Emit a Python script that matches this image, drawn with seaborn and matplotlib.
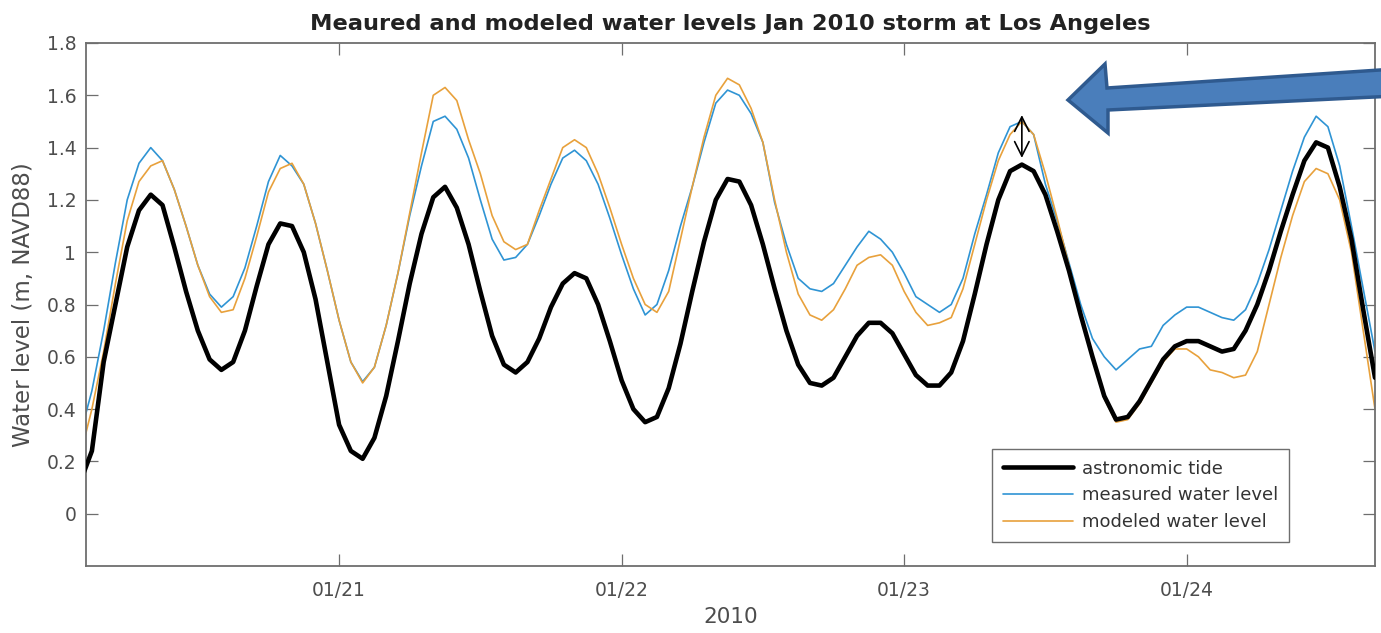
import numpy as np
import pandas as pd
import matplotlib
matplotlib.use("Agg")
import matplotlib.pyplot as plt
import matplotlib.dates as mdates
from matplotlib.patches import Polygon
from matplotlib.ticker import FuncFormatter
import seaborn as sns

# ---------------- data (hourly, starting 2010-01-20 02:00) ----------------
start_time = "2010-01-20 02:00"

astronomic_tide = [
    0.12, 0.24, 0.58, 0.80, 1.02, 1.16, 1.22, 1.18, 1.02, 0.85,   # 02-11
    0.70, 0.59, 0.55, 0.58, 0.70, 0.87, 1.03, 1.11, 1.10, 1.00,   # 12-21
    0.82, 0.58, 0.34, 0.24, 0.21, 0.29, 0.45, 0.66, 0.88, 1.07,   # 22-31
    1.21, 1.25, 1.17, 1.03, 0.85, 0.68, 0.57, 0.54, 0.58, 0.67,   # 32-41
    0.79, 0.88, 0.92, 0.90, 0.80, 0.66, 0.51, 0.40, 0.35, 0.37,   # 42-51
    0.48, 0.65, 0.85, 1.04, 1.20, 1.28, 1.27, 1.18, 1.03, 0.86,   # 52-61
    0.70, 0.57, 0.50, 0.49, 0.52, 0.60, 0.68, 0.73, 0.73, 0.69,   # 62-71
    0.61, 0.53, 0.49, 0.49, 0.54, 0.66, 0.84, 1.03, 1.20, 1.31,   # 72-81
    1.335, 1.31, 1.22, 1.08, 0.93, 0.76, 0.60, 0.45, 0.36, 0.37,  # 82-91
    0.43, 0.51, 0.59, 0.64, 0.66, 0.66, 0.64, 0.62, 0.63, 0.70,   # 92-101
    0.80, 0.93, 1.08, 1.22, 1.35, 1.42, 1.40, 1.25, 1.05, 0.78,   # 102-111
    0.52,                                                         # 112
]

measured_level = [
    0.30, 0.47, 0.70, 0.96, 1.20, 1.34, 1.40, 1.35, 1.24, 1.10,
    0.95, 0.84, 0.79, 0.83, 0.94, 1.10, 1.27, 1.37, 1.33, 1.26,
    1.11, 0.93, 0.74, 0.58, 0.505, 0.56, 0.72, 0.92, 1.14, 1.33,
    1.50, 1.52, 1.47, 1.36, 1.20, 1.05, 0.97, 0.98, 1.03, 1.14,
    1.26, 1.36, 1.39, 1.35, 1.26, 1.13, 0.99, 0.86, 0.76, 0.80,
    0.93, 1.10, 1.25, 1.42, 1.57, 1.62, 1.60, 1.53, 1.42, 1.19,
    1.03, 0.90, 0.86, 0.85, 0.88, 0.95, 1.02, 1.08, 1.05, 1.00,
    0.92, 0.83, 0.80, 0.77, 0.80, 0.90, 1.07, 1.22, 1.38, 1.48,
    1.50, 1.45, 1.26, 1.12, 0.96, 0.80, 0.67, 0.60, 0.55, 0.59,
    0.63, 0.64, 0.72, 0.76, 0.79, 0.79, 0.77, 0.75, 0.74, 0.78,
    0.88, 1.01, 1.16, 1.31, 1.44, 1.52, 1.48, 1.33, 1.10, 0.86,
    0.62,
]

modeled_level = [
    0.22, 0.40, 0.62, 0.88, 1.12, 1.27, 1.33, 1.35, 1.24, 1.10,
    0.95, 0.83, 0.77, 0.78, 0.90, 1.06, 1.23, 1.32, 1.34, 1.26,
    1.11, 0.93, 0.74, 0.58, 0.50, 0.56, 0.72, 0.92, 1.15, 1.38,
    1.60, 1.63, 1.58, 1.43, 1.30, 1.14, 1.04, 1.01, 1.03, 1.16,
    1.28, 1.40, 1.43, 1.40, 1.30, 1.17, 1.03, 0.90, 0.80, 0.77,
    0.85, 1.05, 1.25, 1.44, 1.60, 1.665, 1.64, 1.55, 1.42, 1.20,
    1.00, 0.84, 0.76, 0.74, 0.78, 0.86, 0.95, 0.98, 0.99, 0.95,
    0.85, 0.77, 0.72, 0.73, 0.75, 0.86, 1.03, 1.20, 1.35, 1.45,
    1.50, 1.45, 1.30, 1.13, 0.95, 0.76, 0.59, 0.44, 0.35, 0.36,
    0.42, 0.50, 0.58, 0.63, 0.63, 0.60, 0.55, 0.54, 0.52, 0.53,
    0.62, 0.80, 0.98, 1.14, 1.27, 1.32, 1.30, 1.20, 1.00, 0.70,
    0.40,
]

series_labels = ["astronomic tide", "measured water level", "modeled water level"]
title_text = "Meaured and modeled water levels Jan 2010 storm at Los Angeles"
y_label = "Water level (m, NAVD88)"
x_label = "2010"
y_ticks = [0, 0.2, 0.4, 0.6, 0.8, 1.0, 1.2, 1.4, 1.6, 1.8]

# ---------------- build frame ----------------
times = pd.date_range(start_time, periods=len(astronomic_tide), freq="h")
df = pd.DataFrame({
    "time": times,
    series_labels[0]: astronomic_tide,
    series_labels[1]: measured_level,
    series_labels[2]: modeled_level,
})
long = df.melt(id_vars="time", var_name="series", value_name="level")

# ---------------- style ----------------
sns.set_theme(style="white")
plt.rcParams["font.family"] = ["DejaVu Sans"]

gray = "#4d4d4d"
spine_gray = "#6e6e6e"
palette = {series_labels[0]: "#000000",
           series_labels[1]: "#2f94d4",
           series_labels[2]: "#e8a13c"}
widths = {series_labels[0]: 3.3, series_labels[1]: 1.2, series_labels[2]: 1.2}

fig = plt.figure(figsize=(13.81, 6.33), dpi=100)
ax = fig.add_axes([86 / 1381, 1 - 566 / 633, (1375 - 86) / 1381, (566 - 43) / 633])

for name in series_labels:
    sub = long[long["series"] == name]
    sns.lineplot(data=sub, x="time", y="level", color=palette[name],
                 linewidth=widths[name], label=name, ax=ax,
                 zorder=3 if name == series_labels[0] else 2)

# axis limits & ticks
ax.set_xlim(pd.Timestamp("2010-01-20 02:30"), pd.Timestamp("2010-01-24 16:00"))
ax.set_ylim(-0.2, 1.8)
ax.set_yticks(y_ticks)
ax.yaxis.set_major_formatter(FuncFormatter(lambda v, p: f"{v:g}"))
ax.xaxis.set_major_locator(mdates.DayLocator())
ax.xaxis.set_major_formatter(mdates.DateFormatter("%m/%d"))

ax.tick_params(axis="both", which="major", direction="in", length=8.5, width=0.9,
               color=spine_gray, labelcolor=gray, labelsize=13.5,
               top=True, right=True, bottom=True, left=True)
ax.tick_params(axis="y", pad=7)
ax.tick_params(axis="x", pad=11)
for sp in ax.spines.values():
    sp.set_color(spine_gray)
    sp.set_linewidth(1.3)
    sp.set_visible(True)

ax.set_xlabel(x_label, fontsize=15.5, color=gray, labelpad=5)
ax.set_ylabel(y_label, fontsize=16.5, color=gray, labelpad=8)
ax.set_title(title_text, fontsize=16.2, fontweight="bold", color="#222222", pad=9)

leg = ax.legend(loc="lower left", bbox_to_anchor=(0.703, 0.046), borderaxespad=0,
                fontsize=13, frameon=True, fancybox=False, framealpha=1,
                edgecolor=spine_gray, handlelength=3.9, handletextpad=0.45,
                labelspacing=0.48, borderpad=0.6)
for t in leg.get_texts():
    t.set_color("#333333")
leg.get_frame().set_linewidth(1.0)

# double-headed arrow between measured and tide peak near 01/23
tide_arr = np.array(astronomic_tide)
meas_arr = np.array(measured_level)
win = slice(76, 86)
i_peak = 76 + int(np.argmax(tide_arr[win]))
ax.annotate("", xy=(times[i_peak], meas_arr[win].max() + 0.035),
            xytext=(times[i_peak], tide_arr[i_peak] + 0.015),
            arrowprops=dict(arrowstyle="<->", color="black", lw=1.2,
                            mutation_scale=26), zorder=5)

# big blue block arrow (figure decoration)
pts_px = [(1068, 100), (1105, 64), (1107, 88), (1395, 69), (1395, 96),
          (1108, 110), (1108, 133)]
pts = [(x / 1381, 1 - y / 633) for x, y in pts_px]
arrow = Polygon(pts, closed=True, transform=fig.transFigure,
                facecolor="#4a7ebb", edgecolor="#2f5a8f", linewidth=2.5,
                zorder=10, clip_on=False)
fig.patches.append(arrow)

fig.savefig("out.png", dpi=100, facecolor="white")
